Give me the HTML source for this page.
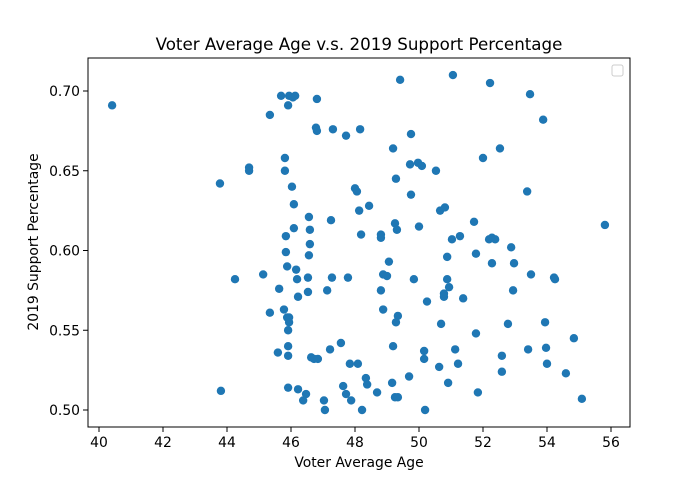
<!DOCTYPE html>
<html><head><meta charset="utf-8"><style>
body{margin:0;background:#fff;}
svg{display:block;font-family:"DejaVu Sans","Liberation Sans",sans-serif;}
</style></head><body>
<svg id="chart" width="700" height="480">
<rect x="0" y="0" width="700" height="480" fill="#fff"/>
<text x="359" y="50" text-anchor="middle" font-size="16.7">Voter Average Age v.s. 2019 Support Percentage</text>
<text x="359" y="467" text-anchor="middle" font-size="13.9">Voter Average Age</text>
<text transform="translate(38,242) rotate(-90)" text-anchor="middle" font-size="13.9">2019 Support Percentage</text>
<g id="points"></g>
<g id="axes"></g>
<rect x="88" y="58" width="542" height="369" fill="none" stroke="#000" stroke-width="1"/>
<rect x="612" y="65" width="11" height="11" rx="2" fill="none" stroke="#ccc" stroke-width="1"/>
</svg>
<script>
const ages=[40.41,43.78,43.81,44.25,44.69,44.69,45.13,45.34,45.34,45.69,45.81,45.81,45.91,45.94,46.06,45.63,45.59,45.78,45.84,45.84,45.88,45.88,45.91,45.91,45.91,45.94,45.94,45.91,46.03,46.09,46.09,46.13,46.16,46.19,46.22,46.22,46.38,46.47,46.53,46.53,46.56,46.59,46.59,46.56,46.63,46.72,46.81,46.78,46.81,46.84,47.03,47.06,47.13,47.22,47.28,47.31,47.25,47.56,47.72,47.78,47.63,47.72,47.84,47.88,48.00,48.06,48.13,48.16,48.09,48.19,48.22,48.34,48.38,48.44,48.69,48.81,48.81,48.81,48.88,48.88,49.00,49.06,49.16,49.19,49.19,49.28,49.25,49.31,49.25,49.34,49.41,49.34,49.28,49.69,49.75,49.72,49.75,49.84,49.97,50.00,50.09,50.16,50.16,50.19,50.25,50.53,50.63,50.66,50.69,50.78,50.78,50.81,50.88,50.88,50.91,50.94,51.03,51.06,51.13,51.22,51.28,51.38,51.72,51.78,51.78,51.84,52.00,52.19,52.22,52.28,52.28,52.38,52.53,52.59,52.59,52.88,52.94,52.97,52.78,53.38,53.41,53.50,53.47,53.88,53.94,53.97,54.00,54.22,54.25,54.59,54.84,55.09,55.81];
const support=[0.691,0.642,0.512,0.582,0.652,0.650,0.585,0.685,0.561,0.697,0.658,0.650,0.691,0.697,0.696,0.576,0.536,0.563,0.609,0.599,0.590,0.558,0.550,0.540,0.534,0.558,0.555,0.514,0.640,0.629,0.614,0.697,0.588,0.582,0.571,0.513,0.506,0.510,0.574,0.583,0.621,0.613,0.604,0.597,0.533,0.532,0.695,0.677,0.675,0.532,0.506,0.500,0.575,0.538,0.583,0.676,0.619,0.542,0.672,0.583,0.515,0.510,0.529,0.506,0.639,0.637,0.625,0.676,0.529,0.610,0.500,0.520,0.516,0.628,0.511,0.575,0.610,0.608,0.585,0.563,0.584,0.593,0.517,0.540,0.664,0.645,0.617,0.613,0.508,0.508,0.707,0.559,0.555,0.521,0.673,0.654,0.635,0.582,0.655,0.615,0.653,0.537,0.532,0.500,0.568,0.650,0.527,0.625,0.554,0.571,0.573,0.627,0.596,0.582,0.517,0.577,0.607,0.710,0.538,0.529,0.609,0.570,0.618,0.598,0.548,0.511,0.658,0.607,0.705,0.592,0.608,0.607,0.664,0.534,0.524,0.602,0.575,0.592,0.554,0.637,0.538,0.585,0.698,0.682,0.555,0.539,0.529,0.583,0.582,0.523,0.545,0.507,0.616];
const xTicks=[40,42,44,46,48,50,52,54,56];
const yTicks=[0.50,0.55,0.60,0.65,0.70];
const yTickLabels=["0.50","0.55","0.60","0.65","0.70"];
const NS="http://www.w3.org/2000/svg";
function xs(v){return 99+(v-40)*32;}
function ys(v){return 410-(v-0.5)*1595;}
const pg=document.getElementById('points');
for(let i=0;i<ages.length;i++){
 const c=document.createElementNS(NS,'circle');
 c.setAttribute('cx',xs(ages[i]));c.setAttribute('cy',ys(support[i]));
 c.setAttribute('r',4.2);c.setAttribute('fill','#1f77b4');
 
 
 pg.appendChild(c);
}
const ag=document.getElementById('axes');
xTicks.forEach(t=>{
 const x=xs(t);
 const l=document.createElementNS(NS,'line');
 l.setAttribute('x1',x);l.setAttribute('x2',x);l.setAttribute('y1',427);l.setAttribute('y2',432);l.setAttribute('stroke','#000');
 
 
 ag.appendChild(l);
 const tx=document.createElementNS(NS,'text');
 tx.setAttribute('x',x);tx.setAttribute('y',447);tx.setAttribute('text-anchor','middle');tx.setAttribute('font-size','13.9');
 tx.textContent=t;
 
 
 ag.appendChild(tx);
});
yTicks.forEach((t,i)=>{
 const y=ys(t);
 const l=document.createElementNS(NS,'line');
 l.setAttribute('x1',83);l.setAttribute('x2',88);l.setAttribute('y1',y);l.setAttribute('y2',y);l.setAttribute('stroke','#000');
 
 
 ag.appendChild(l);
 const tx=document.createElementNS(NS,'text');
 tx.setAttribute('x',80);tx.setAttribute('y',y+5);tx.setAttribute('text-anchor','end');tx.setAttribute('font-size','13.9');
 tx.textContent=yTickLabels[i];
 
 
 ag.appendChild(tx);
});
</script>
</body></html>
